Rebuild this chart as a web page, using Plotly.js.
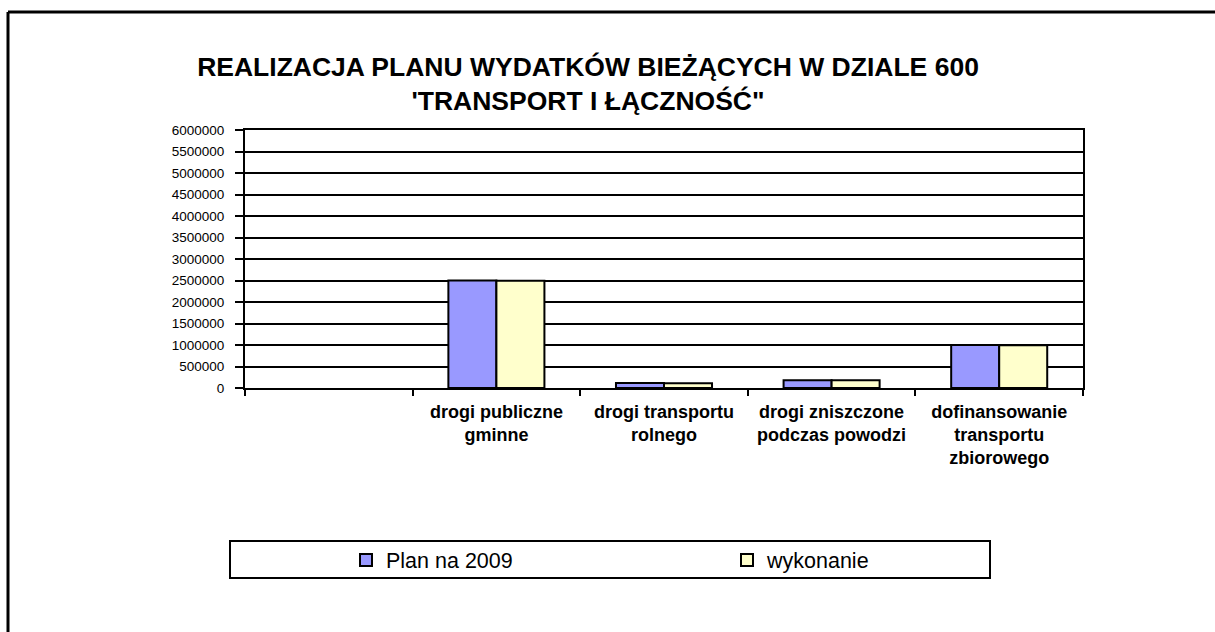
<!DOCTYPE html>
<html>
<head>
<meta charset="utf-8">
<script src="https://cdn.plot.ly/plotly-3.0.1.min.js"></script>
<style>html,body{margin:0;padding:0;background:#fff;}#chart{width:1215px;height:632px;}</style>
</head>
<body>
<div id="chart"></div>
<script>
var categories = ["\u200b", "drogi publiczne<br>gminne", "drogi transportu<br>rolnego", "drogi zniszczone<br>podczas powodzi", "dofinansowanie<br>transportu<br>zbiorowego"];
var planValues = [null, 2500000, 115000, 180000, 1000000];
var wykonanieValues = [null, 2495000, 112000, 178000, 995000];
var seriesNames = ["Plan na 2009", "wykonanie"];
var titleText = "REALIZACJA PLANU WYDATKÓW BIEŻĄCYCH W DZIALE 600<br>'TRANSPORT I ŁĄCZNOŚĆ\"";

var sans = "Liberation Sans, Arial, sans-serif";

var traces = [
  {type: "bar", name: seriesNames[0], x: categories, y: planValues,
   marker: {color: "#9999FF", line: {color: "#000000", width: 2}}},
  {type: "bar", name: seriesNames[1], x: categories, y: wykonanieValues,
   marker: {color: "#FFFFCC", line: {color: "#000000", width: 2}}}
];

var W = 1215, H = 632, L = 245, R = 132, T = 130, B = 244;
var pw = W - L - R, ph = H - T - B;
function px(x){ return (x - L) / pw; }
function py(y){ return (H - B - y) / ph; }

var layout = {
  width: W, height: H,
  margin: {l: L, r: R, t: T, b: B, pad: 0},
  paper_bgcolor: "#ffffff", plot_bgcolor: "#ffffff",
  barmode: "group", bargap: 0.427, bargroupgap: 0,
  showlegend: true,
  title: {text: titleText, font: {family: sans, size: 26.5, color: "#000", weight: "bold"},
          x: px(588), xref: "paper", xanchor: "center", y: 1 - 76/H, yanchor: "top"},
  xaxis: {type: "category", categoryorder: "array", categoryarray: categories,
          tickson: "boundaries", ticks: "outside", ticklen: 6, tickwidth: 2, tickcolor: "#000",
          showline: true, linecolor: "#000", linewidth: 2, mirror: true, showgrid: false,
          tickfont: {family: sans, size: 18, color: "#000", weight: "bold"}, ticklabelstandoff: 6},
  yaxis: {range: [0, 6000000], dtick: 500000, tick0: 0, tickformat: "d",
          ticks: "outside", ticklen: 8, tickwidth: 2, tickcolor: "#000",
          showline: true, linecolor: "#000", linewidth: 2, mirror: true,
          showgrid: true, gridcolor: "#000", gridwidth: 2, zeroline: false,
          tickfont: {family: sans, size: 13.5, color: "#000"}, ticklabelstandoff: 8},
  legend: {orientation: "h", x: px(346), xanchor: "left", y: py(560), yanchor: "middle",
           entrywidth: 336, entrywidthmode: "pixels", bgcolor: "rgba(0,0,0,0)", borderwidth: 0,
           font: {family: sans, size: 21.5, color: "#000"}, traceorder: "normal"},
  shapes: [
    {type: "rect", xref: "paper", yref: "paper", x0: px(230), x1: px(990), y0: py(541), y1: py(578),
     line: {color: "#000", width: 2}, fillcolor: "rgba(0,0,0,0)", layer: "below"},
    {type: "line", xref: "paper", yref: "paper", x0: px(8), x1: px(1215), y0: py(12), y1: py(12),
     line: {color: "#000", width: 3}},
    {type: "line", xref: "paper", yref: "paper", x0: px(8), x1: px(8), y0: py(12), y1: py(632),
     line: {color: "#000", width: 3}}
  ]
};

Plotly.newPlot("chart", traces, layout, {staticPlot: true, displayModeBar: false});
</script>
</body>
</html>
